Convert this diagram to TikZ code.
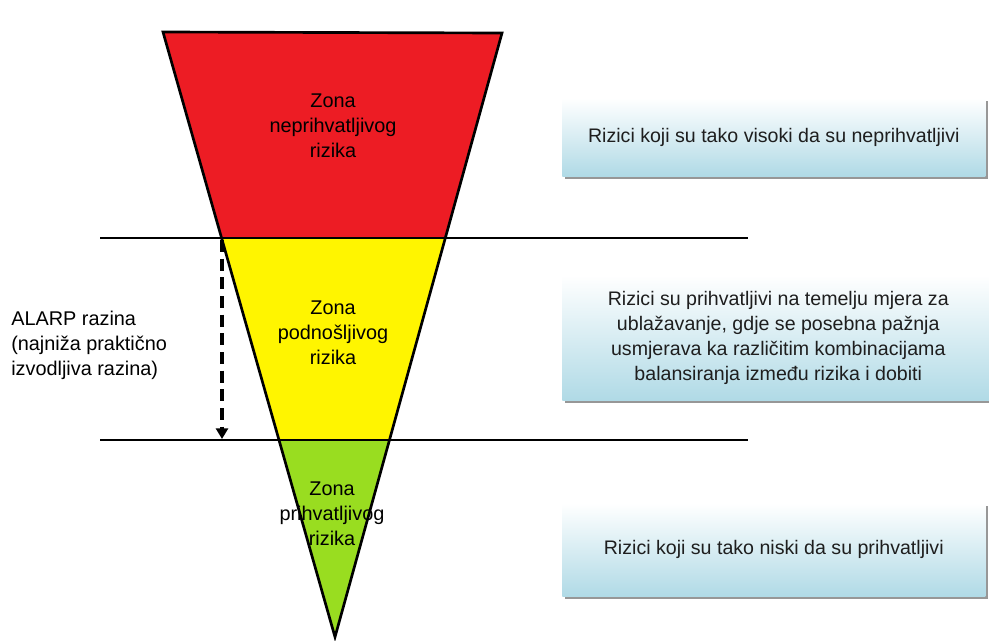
\documentclass[tikz,border=0pt]{standalone}
\usepackage{fontspec}
\setmainfont{Liberation Sans}
\usetikzlibrary{shadows,arrows.meta}
\definecolor{zred}{RGB}{237,28,36}
\definecolor{zyellow}{RGB}{255,245,0}
\definecolor{zgreen}{RGB}{153,221,32}
\definecolor{boxblue}{RGB}{176,218,230}
\definecolor{boxtext}{RGB}{30,30,30}
\tikzset{
  zone/.style={draw=black, line width=2pt, line join=miter},
  level/.style={draw=black, line width=1.9pt},
  lbl/.style={align=center, font=\fontsize{14.9pt}{18.75pt}\selectfont, inner sep=0pt},
  infobox/.style={draw=none, top color=white, bottom color=boxblue, anchor=north west,
    drop shadow={shadow xshift=2.2pt, shadow yshift=-2.2pt, fill=black!45, opacity=0.9},
    align=center, inner sep=0pt, text=boxtext, font=\fontsize{14.7pt}{18.75pt}\selectfont},
}
\begin{document}
\begin{tikzpicture}[x=0.75pt, y=-0.75pt]
\useasboundingbox (0,0) rectangle (989,640);
% triangle corners
\coordinate (TL) at (163,32);
\coordinate (TR) at (502,33);
\coordinate (TIP) at (335,637);
\coordinate (L1) at (221.6,238);
\coordinate (R1) at (445.3,238);
\coordinate (L2) at (279.0,440);
\coordinate (R2) at (389.5,440);
% fills
\fill[zred] (TL) -- (TR) -- (R1) -- (L1) -- cycle;
\fill[zyellow] (L1) -- (R1) -- (R2) -- (L2) -- cycle;
\fill[zgreen] (L2) -- (R2) -- (TIP) -- cycle;
\draw[zone] (TL) -- (TR) -- (TIP) -- cycle;
% level lines
\coordinate (H1a) at (100,238);
\coordinate (H1b) at (748,238);
\coordinate (H2a) at (100,440);
\coordinate (H2b) at (748,440);
\draw[level] (H1a) -- (H1b);
\draw[level] (H2a) -- (H2b);
% ALARP arrow
\coordinate (A1) at (222,240);
\coordinate (A2) at (222,439);
\draw[line width=2.4pt, dash pattern=on 9pt off 5pt, -{Triangle[length=8pt,width=9pt]}] (A1) -- (A2);
% zone labels
\node[lbl] (zn1) at (333,126) {Zona\\neprihvatljivog\\rizika};
\node[lbl] (zn2) at (333,333) {Zona\\podnošljivog\\rizika};
\node[lbl] (zn3) at (332,514) {Zona\\prihvatljivog\\rizika};
\node[lbl, align=left, anchor=west] (alarp) at (11,345) {ALARP razina\\(najniža praktično\\izvodljiva razina)};
% info boxes
\node[infobox, minimum width=423*0.75pt, minimum height=78*0.75pt] (b1) at (562,98)
  {Rizici koji su tako visoki da su neprihvatljivi};
\node[infobox, minimum width=432*0.75pt, minimum height=125*0.75pt] (b2) at (562,275)
  {Rizici su prihvatljivi na temelju mjera za\\ublažavanje, gdje se posebna pažnja\\usmjerava ka različitim kombinacijama\\balansiranja između rizika i dobiti};
\node[infobox, minimum width=423*0.75pt, minimum height=93*0.75pt] (b3) at (562,503)
  {Rizici koji su tako niski da su prihvatljivi};
\end{tikzpicture}
\end{document}
